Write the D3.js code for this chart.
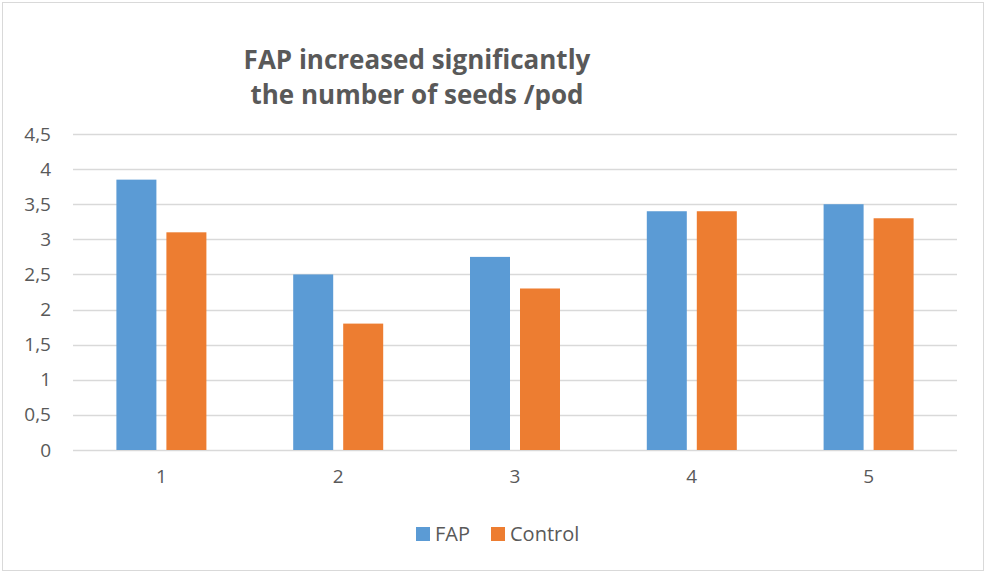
<!DOCTYPE html>
<html>
<head>
<meta charset="utf-8">
<script src="https://cdn.jsdelivr.net/npm/d3@7"></script>
<style>
  body { margin: 0; background: #fff; }
  svg { display: block; font-family: "Open Sans", sans-serif; }
</style>
</head>
<body>
<svg id="chart" width="986" height="573"></svg>
<script>
// data
var categories = ["1", "2", "3", "4", "5"];
var fapValues = [3.85, 2.5, 2.75, 3.4, 3.5];
var controlValues = [3.1, 1.8, 2.3, 3.4, 3.3];
var seriesNames = ["FAP", "Control"];
var yTicks = [0, 0.5, 1, 1.5, 2, 2.5, 3, 3.5, 4, 4.5];
var titleLines = ["FAP increased significantly", "the number of seeds /pod"];

var colors = { "FAP": "#5B9BD5", "Control": "#ED7D31" };
var textColor = "#595959";

var svg = d3.select("#chart");
var width = 986, height = 573;
var margin = { top: 134, right: 29, bottom: 123, left: 73 };

// chart border
svg.append("rect")
        .attr("x", 2.5).attr("y", 2.5)
        .attr("width", width - 5).attr("height", height - 5)
        .attr("fill", "#fff")
        .attr("stroke", "#d9d9d9");

var x = d3.scaleBand()
        .domain(categories)
        .range([margin.left, width - margin.right])
        .paddingInner(0).paddingOuter(0);

// bars take about half of each category, 40px wide with a 10px gap
var groupPad = (x.bandwidth() - 90) / 2;
var x1 = d3.scaleBand()
        .domain(seriesNames)
        .range([groupPad, x.bandwidth() - groupPad])
        .paddingInner(0.2);

var y = d3.scaleLinear()
        .domain([0, 4.5])
        .range([height - margin.bottom, margin.top]);

var fmt = function(d) { return String(d).replace(".", ","); };

// grid lines
var g = svg.append("g");
g.selectAll(".grid")
        .data(yTicks)
        .enter().append("line")
        .attr("class", "grid")
        .attr("x1", margin.left)
        .attr("x2", width - margin.right)
        .attr("y1", function(d) { return Math.round(y(d)) + 0.5; })
        .attr("y2", function(d) { return Math.round(y(d)) + 0.5; })
        .attr("stroke", "#d9d9d9")
        .attr("stroke-width", 1.5);

// y axis labels
var yAxis = d3.axisLeft(y).tickValues(yTicks).tickFormat(fmt).tickSize(0).tickPadding(22);
var ya = svg.append("g")
        .attr("transform", "translate(" + margin.left + ",0)")
        .call(yAxis);
ya.select(".domain").remove();
ya.selectAll("text")
        .attr("fill", textColor)
        .style("font-size", "19px")
        .style("font-family", "Open Sans, sans-serif");

// x axis labels
var xAxis = d3.axisBottom(x).tickSize(0).tickPadding(20);
var xa = svg.append("g")
        .attr("transform", "translate(0," + (height - margin.bottom) + ")")
        .call(xAxis);
xa.select(".domain").remove();
xa.selectAll("text")
        .attr("fill", textColor)
        .style("font-size", "19px")
        .style("font-family", "Open Sans, sans-serif");

// bars
var rows = categories.map(function(c, i) {
        return { cat: c, values: [
                { name: "FAP", value: fapValues[i] },
                { name: "Control", value: controlValues[i] }
        ] };
});

var groups = svg.selectAll(".group")
        .data(rows)
        .enter().append("g")
        .attr("class", "group")
        .attr("transform", function(d) { return "translate(" + x(d.cat) + ",0)"; });

groups.selectAll("rect")
        .data(function(d) { return d.values; })
        .enter().append("rect")
        .attr("x", function(d) { return x1(d.name); })
        .attr("width", x1.bandwidth())
        .attr("y", function(d) { return y(d.value); })
        .attr("height", function(d) { return y(0) - y(d.value); })
        .attr("fill", function(d) { return colors[d.name]; });

// title
svg.append("g").selectAll("text")
        .data(titleLines)
        .enter().append("text")
        .attr("x", 417)
        .attr("y", function(d, i) { return 69 + i * 35; })
        .attr("text-anchor", "middle")
        .attr("fill", textColor)
        .style("font-size", "26px")
        .style("font-weight", "bold")
        .text(function(d) { return d; });

// legend
var legend = svg.append("g");
var legendX = [416, 491];
seriesNames.forEach(function(name, i) {
        legend.append("rect")
                .attr("x", legendX[i]).attr("y", 527)
                .attr("width", 14).attr("height", 14)
                .attr("fill", colors[name]);
        legend.append("text")
                .attr("x", legendX[i] + 19).attr("y", 541)
                .attr("fill", textColor)
                .style("font-size", "20px")
                .text(name);
});
</script>
</body>
</html>
